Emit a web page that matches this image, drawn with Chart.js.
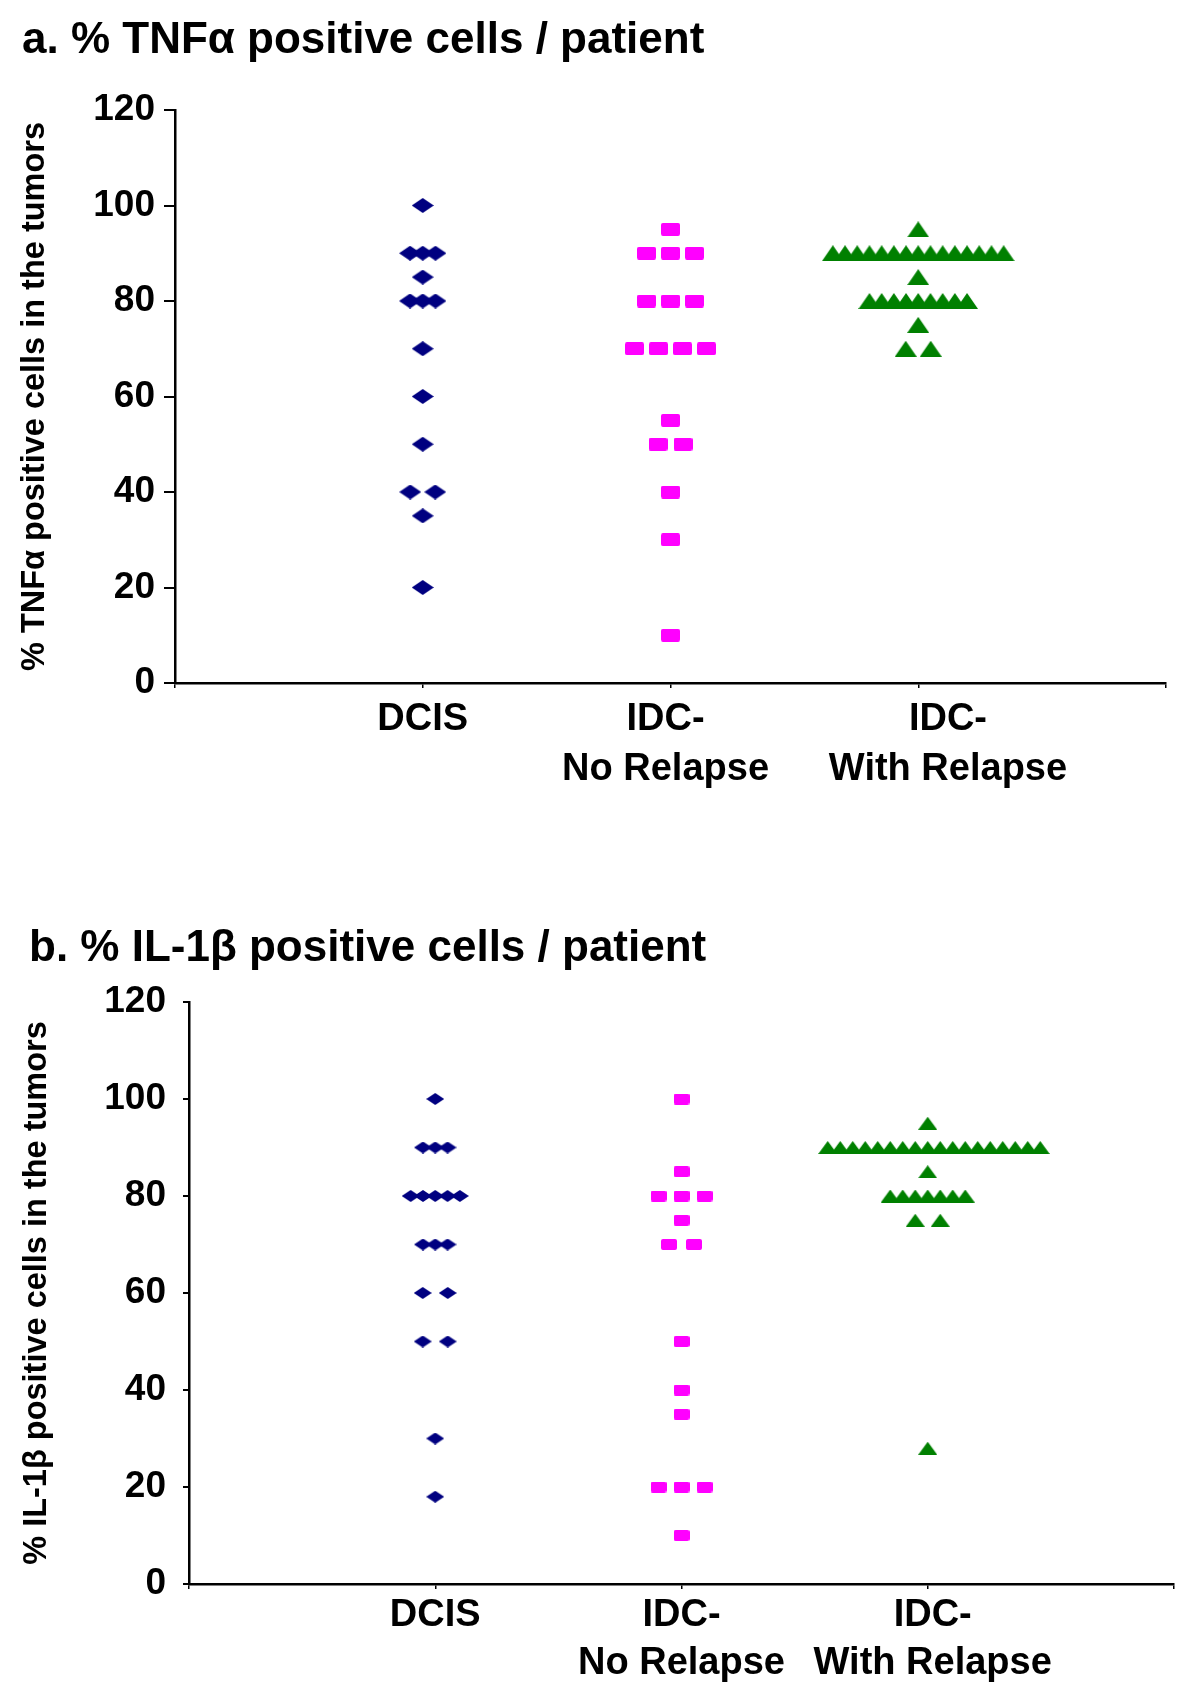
<!DOCTYPE html>
<html>
<head>
<meta charset="utf-8">
<script src="https://cdn.jsdelivr.net/npm/chart.js@4.4.1/dist/chart.umd.min.js"></script>
<style>
  body { margin: 0; background: #fff; width: 1200px; height: 1704px; position: relative; font-family: "Liberation Sans", Arial, sans-serif; }
  canvas { position: absolute; left: 0; }
  .title { position: absolute; font-weight: bold; font-size: 44px; line-height: 50px; color: #000; white-space: nowrap; }
</style>
</head>
<body>
<canvas id="chartA" width="1200" height="850" style="top:0"></canvas>
<canvas id="chartB" width="1200" height="854" style="top:850px"></canvas>
<div class="title" style="left:22px; top:13px">a. % TNFα positive cells / patient</div>
<div class="title" style="left:29px; top:921px">b. % IL-1β positive cells / patient</div>
<script>
// categories sit at x = 1, 2, 3 on a 0..4 axis
const categories = [["DCIS"], ["IDC-", "No Relapse"], ["IDC-", "With Relapse"]];
const yTicks = [0, 20, 40, 60, 80, 100, 120];

// a. % TNFa positive cells per patient
const tnfDcis = [100, 90, 90, 90, 85, 80, 80, 80, 70, 60, 50, 40, 40, 35, 20];
const tnfNoRelapse = [95, 90, 90, 90, 80, 80, 80, 70, 70, 70, 70, 55, 50, 50, 40, 30, 10];
const tnfRelapse = [95,
  90, 90, 90, 90, 90, 90, 90, 90, 90, 90, 90, 90, 90, 90, 90,
  85,
  80, 80, 80, 80, 80, 80, 80, 80, 80,
  75, 70, 70];

// b. % IL-1b positive cells per patient
const ilDcis = [100, 90, 90, 90, 80, 80, 80, 80, 80, 70, 70, 70, 60, 60, 50, 50, 30, 18];
const ilNoRelapse = [100, 85, 80, 80, 80, 75, 70, 70, 50, 40, 35, 20, 20, 20, 10];
const ilRelapse = [95,
  90, 90, 90, 90, 90, 90, 90, 90, 90, 90, 90, 90, 90, 90, 90, 90, 90, 90,
  85,
  80, 80, 80, 80, 80, 80, 80,
  75, 75, 28];

const FONT = "'Liberation Sans', Arial, sans-serif";
const NAVY = "#000080", MAGENTA = "#ff00ff", GREEN = "#008000";

// small marker bitmaps used as point styles
function marker(w, h, color, shape) {
  const c = document.createElement("canvas");
  c.width = w; c.height = h;
  const g = c.getContext("2d");
  g.fillStyle = color;
  g.beginPath();
  if (shape === "diamond") {
    g.moveTo(w / 2, 0); g.lineTo(w, h / 2); g.lineTo(w / 2, h); g.lineTo(0, h / 2);
  } else if (shape === "triangle") {
    g.moveTo(w / 2, 0); g.lineTo(w, h); g.lineTo(0, h);
  } else {
    g.roundRect(0, 0, w, h, 2);
  }
  g.closePath();
  g.fill();
  return c;
}

// dot-plot layout: equal values are spread sideways around the category
function spread(values, center, stepPx, pxPerUnit, evenShift) {
  const counts = {}, seen = {};
  values.forEach(v => counts[v] = (counts[v] || 0) + 1);
  return values.map(v => {
    const n = counts[v];
    const i = seen[v] = seen[v] === undefined ? 0 : seen[v] + 1;
    let off = (i - (n - 1) / 2) * stepPx;
    if (n === 2) off = (i === 0 ? -1 : 1) * 12.5;
    else if (n % 2 === 0 && evenShift) off += stepPx / 2;
    return { x: center + off / pxPerUnit, y: v };
  });
}

function makeChart(id, groups, cfg) {
  const pxPerUnit = (1200 - cfg.padding.right - cfg.axisX) / 4;
  const tickFont = { family: FONT, size: 37, weight: "bold" };
  return new Chart(document.getElementById(id), {
    type: "scatter",
    data: {
      datasets: groups.map((grp, k) => ({
        data: spread(grp.values, k + 1, grp.step, pxPerUnit, grp.evenShift),
        pointStyle: grp.marker,
        pointRadius: 10,
        pointHoverRadius: 10
      }))
    },
    options: {
      responsive: false,
      animation: false,
      layout: { padding: cfg.padding },
      plugins: { legend: { display: false }, tooltip: { enabled: false } },
      scales: {
        // axis line with tick marks at 0..4
        x: {
          type: "linear", min: 0, max: 4,
          afterBuildTicks: s => { s.ticks = [0, 1, 2, 3, 4].map(v => ({ value: v })); },
          afterFit: s => { s.height = 5; },
          border: { display: true, color: "#000", width: 2.5 },
          grid: { display: true, drawOnChartArea: false, drawTicks: true, tickLength: 5, color: "#000", lineWidth: 1.5 },
          ticks: { display: false }
        },
        // category labels, placed where the original figure puts them
        xl: {
          type: "linear", position: "bottom", min: 0, max: 4,
          afterBuildTicks: s => { s.ticks = cfg.labelAt.map(v => ({ value: v })); },
          afterFit: s => { s.height = cfg.xHeight - 5; },
          border: { display: false },
          grid: { display: false },
          ticks: {
            autoSkip: false, maxRotation: 0, minRotation: 0, padding: cfg.xPad, color: "#000",
            font: { family: FONT, size: 38, weight: "bold", lineHeight: cfg.xLine },
            callback: (v, i) => categories[i]
          }
        },
        y: {
          min: 0, max: 120,
          afterBuildTicks: s => { s.ticks = yTicks.map(v => ({ value: v })); },
          afterFit: s => { s.width = cfg.axisX - cfg.padding.left; },
          border: { display: true, color: "#000", width: 2.5 },
          grid: { display: true, drawOnChartArea: false, drawTicks: true, tickLength: cfg.yTick, color: "#000", lineWidth: 2 },
          ticks: { padding: cfg.yPad, color: "#000", font: tickFont },
          title: {
            display: true, text: cfg.yTitle, color: "#000",
            font: { family: FONT, size: 32.5, weight: "bold", lineHeight: 1.2 },
            padding: { top: 2, bottom: 0 }
          }
        }
      }
    }
  });
}

makeChart("chartA", [
  { values: tnfDcis, step: 12.7, marker: marker(22, 15, NAVY, "diamond") },
  { values: tnfNoRelapse, step: 24, marker: marker(19, 13, MAGENTA, "square") },
  { values: tnfRelapse, step: 12.2, marker: marker(22, 16, GREEN, "triangle") }
], {
  padding: { left: 14, right: 34, top: 110, bottom: 0 },
  axisX: 175, xHeight: 167, xPad: -2, xLine: 1.32, yTick: 11, yPad: 9,
  labelAt: [1.0, 1.98, 3.12],
  yTitle: "% TNFα positive cells in the tumors"
});

makeChart("chartB", [
  { values: ilDcis, step: 12.3, marker: marker(18, 12, NAVY, "diamond") },
  { values: ilNoRelapse, step: 23, marker: marker(16, 11, MAGENTA, "square") },
  { values: ilRelapse, step: 12.5, marker: marker(19, 13, GREEN, "triangle"), evenShift: true }
], {
  padding: { left: 16, right: 26, top: 152, bottom: 0 },
  axisX: 189, xHeight: 120, xPad: -5, xLine: 1.25, yTick: 6, yPad: 17,
  labelAt: [1.0, 2.0, 3.02],
  yTitle: "% IL-1β positive cells in the tumors"
});
</script>
</body>
</html>
